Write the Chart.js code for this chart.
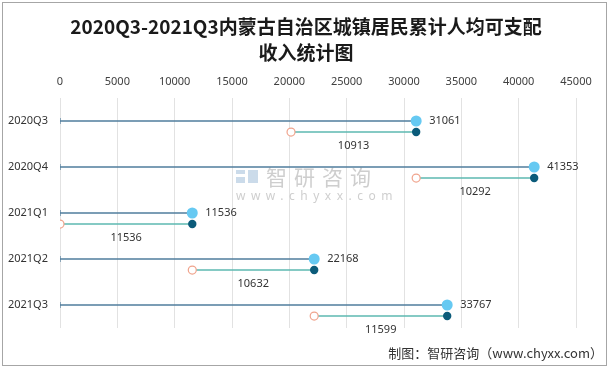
<!DOCTYPE html>
<html>
<head>
<meta charset="utf-8">
<script src="https://cdn.jsdelivr.net/npm/chart.js@4"></script>
<style>
  html, body { margin: 0; padding: 0; background: #fff; }
  #wrap { position: relative; width: 610px; height: 369px; }
  #frame { position: absolute; left: 2px; top: 2px; width: 603px; height: 362px; border: 1px solid #a6a6a6; pointer-events: none; }
  canvas { position: absolute; left: 0; top: 0; }
</style>
</head>
<body>
<div id="wrap">
  <canvas id="chart" width="610" height="369"></canvas>
  <div id="frame"></div>
</div>
<script>
const titleLines = ['2020Q3-2021Q3内蒙古自治区城镇居民累计人均可支配', '收入统计图'];
const quarters = ['2020Q3', '2020Q4', '2021Q1', '2021Q2', '2021Q3'];
const cumulative = [31061, 41353, 11536, 22168, 33767];   // 累计人均可支配收入
const quarterly = [10913, 10292, 11536, 10632, 11599];    // 当季人均可支配收入
const sourceNote = '制图：智研咨询（www.chyxx.com）';

const SUB = 0.24;  // offset of the quarterly row below the cumulative row
const mainColor = '#4f7c9c';
const subColor = '#5cb8b1';

Chart.defaults.font.family = '"Noto Sans", "Noto Sans CJK SC", sans-serif';
Chart.defaults.font.size = 11;
Chart.defaults.color = '#404040';

const datasets = [];
quarters.forEach((q, i) => {
  const start = cumulative[i] - quarterly[i];
  datasets.push({
    data: [{ x: 0, y: i }, { x: cumulative[i], y: i }],
    showLine: true, borderColor: mainColor, borderWidth: 1.5, pointRadius: 0, order: 5
  });
  datasets.push({
    data: [{ x: start, y: i + SUB }, { x: cumulative[i], y: i + SUB }],
    showLine: true, borderColor: subColor, borderWidth: 1.5, pointRadius: 0, order: 5
  });
});
datasets.push({
  data: quarters.map((q, i) => ({ x: 0, y: i })),
  pointStyle: 'line', rotation: 90, pointRadius: 3, borderColor: mainColor, borderWidth: 1.2, order: 4
});
datasets.push({
  data: quarters.map((q, i) => ({ x: cumulative[i] - quarterly[i], y: i + SUB })),
  pointRadius: 4, backgroundColor: '#ffffff', borderColor: '#f0a48d', borderWidth: 1.2, order: 3
});
datasets.push({
  data: quarters.map((q, i) => ({ x: cumulative[i], y: i + SUB })),
  pointRadius: 4.2, backgroundColor: '#0b5b7a', borderWidth: 0, order: 2
});
datasets.push({
  data: quarters.map((q, i) => ({ x: cumulative[i], y: i })),
  pointRadius: 5.5, backgroundColor: '#66c9f2', borderWidth: 0, order: 1
});

const extras = {
  id: 'extras',
  beforeDatasetsDraw(chart) {
    const c = chart.ctx;
    c.save();
    // watermark
    c.fillStyle = '#bdbdbd';
    c.globalAlpha = 0.75;
    c.textBaseline = 'middle';
    c.textAlign = 'left';
    c.font = '21px "Noto Sans CJK SC"';
    c.letterSpacing = '7px';
    c.fillText('智研咨询', 266, 177);
    c.font = '12px "Noto Sans"';
    c.letterSpacing = '5.5px';
    c.fillText('www.chyxx.com', 236, 197);
    c.letterSpacing = '0px';
    c.fillStyle = '#b9cfe3';
    c.fillRect(236, 170, 9, 4);
    c.fillRect(236, 177, 9, 6);
    c.fillRect(248, 170, 10, 13);
    c.restore();
  },
  afterDatasetsDraw(chart) {
    const c = chart.ctx;
    const xs = chart.scales.x, ys = chart.scales.y;
    c.save();
    c.fillStyle = '#333333';
    c.font = '11px "Noto Sans", sans-serif';
    c.textBaseline = 'middle';
    quarters.forEach((q, i) => {
      const start = cumulative[i] - quarterly[i];
      c.textAlign = 'left';
      c.fillText(String(cumulative[i]), xs.getPixelForValue(cumulative[i]) + 13, ys.getPixelForValue(i));
      c.textAlign = 'center';
      c.fillText(String(quarterly[i]), xs.getPixelForValue((start + cumulative[i]) / 2), ys.getPixelForValue(i + SUB) + 13.5);
    });
    c.restore();
  },
  afterDraw(chart) {
    const c = chart.ctx;
    c.save();
    // title
    c.fillStyle = '#1a1a1a';
    c.font = 'bold 19px "Noto Sans CJK SC"';
    c.textAlign = 'center';
    c.textBaseline = 'middle';
    c.fillText(titleLines[0], 306, 27);
    c.fillText(titleLines[1], 306, 53);
    // source note
    c.fillStyle = '#333333';
    c.font = '13px "Noto Sans CJK SC"';
    c.textAlign = 'right';
    c.fillText(sourceNote, 603, 353);
    c.restore();
  }
};

new Chart(document.getElementById('chart'), {
  type: 'scatter',
  data: { datasets },
  plugins: [extras],
  options: {
    responsive: false,
    animation: false,
    layout: { padding: { left: 0, right: 34, top: 74, bottom: 41 } },
    plugins: {
      legend: { display: false },
      tooltip: { enabled: false },
      title: { display: false }
    },
    scales: {
      x: {
        type: 'linear',
        position: 'top',
        min: 0,
        max: 45000,
        ticks: { stepSize: 5000, padding: 10, color: '#404040', callback: v => String(v) },
        grid: { color: '#e2e2e2', drawTicks: false },
        border: { display: false },
        afterFit: s => { s.height = 24; }
      },
      y: {
        type: 'linear',
        position: 'left',
        reverse: true,
        min: -0.5,
        max: 4.5,
        afterBuildTicks: s => { s.ticks = quarters.map((q, i) => ({ value: i })); },
        ticks: { padding: 12, color: '#333333', callback: v => quarters[v] },
        grid: { display: false, drawTicks: false },
        border: { display: false },
        afterFit: s => { s.width = 60; }
      }
    }
  }
});
</script>
</body>
</html>
